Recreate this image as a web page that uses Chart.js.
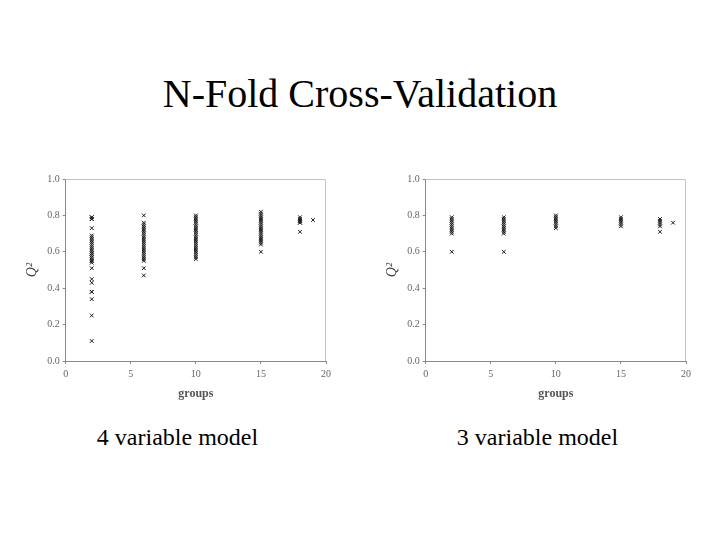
<!DOCTYPE html>
<html>
<head>
<meta charset="utf-8">
<script src="https://cdn.jsdelivr.net/npm/chart.js@4"></script>
<style>
  html, body { margin: 0; padding: 0; background: #fff; font-family: "Liberation Serif", "Times New Roman", serif; }
  #page { position: relative; width: 720px; height: 540px; overflow: hidden; }
  #title { position: absolute; left: 0; width: 720px; top: 72px; text-align: center; font-size: 40px; line-height: 44px; white-space: nowrap; }
  .box { position: absolute; top: 165px; width: 345px; height: 245px; }
</style>
</head>
<body>
<div id="page">
  <div id="title">N-Fold Cross-Validation</div>
  <div class="box" style="left:0px"><canvas id="chart4"></canvas></div>
  <div class="box" style="left:360px"><canvas id="chart3"></canvas></div>
  <div style="position:absolute; left:0px; width:355px; top:423px; text-align:center; font-family:'Liberation Serif','Times New Roman',serif; font-size:24px; line-height:28px; white-space:nowrap;">4 variable model</div>
  <div style="position:absolute; left:360px; width:355px; top:423px; text-align:center; font-family:'Liberation Serif','Times New Roman',serif; font-size:24px; line-height:28px; white-space:nowrap;">3 variable model</div>
</div>
<script>
// x positions (number of groups)
const groups = [2, 6, 10, 15, 18, 19];
const xTicks = [0, 5, 10, 15, 20];
const yTicks = [0.0, 0.2, 0.4, 0.6, 0.8, 1.0];

// Q2 values, 4 variable model, one array per group count
const q2Model4_g2 = [0.79, 0.79, 0.78, 0.78, 0.73, 0.69, 0.68, 0.67, 0.66, 0.65, 0.64, 0.63, 0.62, 0.61, 0.60,
  0.59, 0.59, 0.58, 0.57, 0.56, 0.55, 0.55, 0.54, 0.51, 0.45, 0.43, 0.38, 0.38, 0.34, 0.25, 0.11];
const q2Model4_g6 = [0.80, 0.76, 0.75, 0.74, 0.73, 0.72, 0.71, 0.70, 0.69, 0.68, 0.67, 0.66, 0.65, 0.64, 0.63,
  0.62, 0.61, 0.60, 0.59, 0.58, 0.57, 0.56, 0.55, 0.51, 0.47];
const q2Model4_g10 = [0.80, 0.79, 0.78, 0.77, 0.76, 0.75, 0.74, 0.73, 0.72, 0.71, 0.70, 0.69, 0.68, 0.67, 0.66,
  0.65, 0.64, 0.63, 0.62, 0.61, 0.60, 0.59, 0.58, 0.57, 0.56];
const q2Model4_g15 = [0.82, 0.81, 0.80, 0.79, 0.78, 0.77, 0.76, 0.75, 0.74, 0.73, 0.72, 0.71, 0.70, 0.69, 0.68,
  0.67, 0.66, 0.65, 0.64, 0.60];
const q2Model4_g18 = [0.79, 0.78, 0.77, 0.77, 0.76, 0.76, 0.71];
const q2Model4_g19 = [0.775];

// Q2 values, 3 variable model
const q2Model3_g2 = [0.79, 0.78, 0.77, 0.76, 0.75, 0.74, 0.73, 0.72, 0.71, 0.70, 0.60];
const q2Model3_g6 = [0.79, 0.78, 0.77, 0.76, 0.75, 0.74, 0.73, 0.72, 0.71, 0.70, 0.60];
const q2Model3_g10 = [0.80, 0.79, 0.78, 0.77, 0.76, 0.75, 0.74, 0.73];
const q2Model3_g15 = [0.79, 0.78, 0.77, 0.76, 0.75, 0.74];
const q2Model3_g18 = [0.78, 0.77, 0.76, 0.75, 0.74, 0.71];
const q2Model3_g19 = [0.76];

const model4 = [q2Model4_g2, q2Model4_g6, q2Model4_g10, q2Model4_g15, q2Model4_g18, q2Model4_g19];
const model3 = [q2Model3_g2, q2Model3_g6, q2Model3_g10, q2Model3_g15, q2Model3_g18, q2Model3_g19];

// turn per-group arrays into {x, y} points
function toPoints(model) {
    const pts = [];
    model.forEach((vals, i) => {
        vals.forEach(v => pts.push({ x: groups[i], y: v }));
    });
    return pts;
}

// light frame around the plot area (top and right edges)
const frame = {
    id: 'frame',
    beforeDatasetsDraw(chart) {
        const a = chart.chartArea, ctx = chart.ctx;
        ctx.save();
        ctx.strokeStyle = '#c4c4c4';
        ctx.lineWidth = 1;
        ctx.beginPath();
        ctx.moveTo(a.left, a.top + 0.5);
        ctx.lineTo(a.right - 0.5, a.top + 0.5);
        ctx.lineTo(a.right - 0.5, a.bottom);
        ctx.stroke();
        ctx.restore();
    }
};

function makeChart(id, model) {
    const tickFont = { family: 'Liberation Serif', size: 10 };
    return new Chart(document.getElementById(id), {
        type: 'scatter',
        data: {
            datasets: [{
                data: toPoints(model),
                pointStyle: 'crossRot',
                pointRadius: 2.6,
                pointBorderWidth: 1,
                borderColor: '#1a1a1a',
                backgroundColor: '#1a1a1a'
            }]
        },
        options: {
            responsive: true,
            maintainAspectRatio: false,
            animation: false,
            layout: { padding: { top: 14, right: 19, left: 0, bottom: 0 } },
            plugins: { legend: { display: false }, tooltip: { enabled: false } },
            scales: {
                x: {
                    type: 'linear',
                    min: 0, max: 20,
                    afterBuildTicks: s => { s.ticks = xTicks.map(v => ({ value: v })); },
                    afterFit: s => { s.height = 49; },
                    ticks: { color: '#666', font: tickFont, padding: 4, maxRotation: 0 },
                    grid: { drawOnChartArea: false, drawTicks: true, tickLength: 3, color: '#888' },
                    border: { color: '#888' },
                    title: {
                        display: true, text: 'groups', color: '#555',
                        font: { family: 'Liberation Serif', size: 12, weight: 'bold' },
                        padding: { top: 0, bottom: 9 }
                    }
                },
                y: {
                    min: 0, max: 1,
                    afterBuildTicks: s => { s.ticks = yTicks.map(v => ({ value: v })); },
                    afterFit: s => { s.width = 65.7; },
                    ticks: { color: '#666', font: tickFont, padding: 3, callback: v => v.toFixed(1) },
                    grid: { drawOnChartArea: false, drawTicks: true, tickLength: 3, color: '#888' },
                    border: { color: '#888' },
                    title: {
                        display: true, text: 'Q²', color: '#444',
                        font: { family: 'Liberation Serif', size: 14, style: 'italic' },
                        padding: { top: 24, bottom: 0 }
                    }
                }
            }
        },
        plugins: [frame]
    });
}

makeChart('chart4', model4);
makeChart('chart3', model3);
</script>
</body>
</html>
